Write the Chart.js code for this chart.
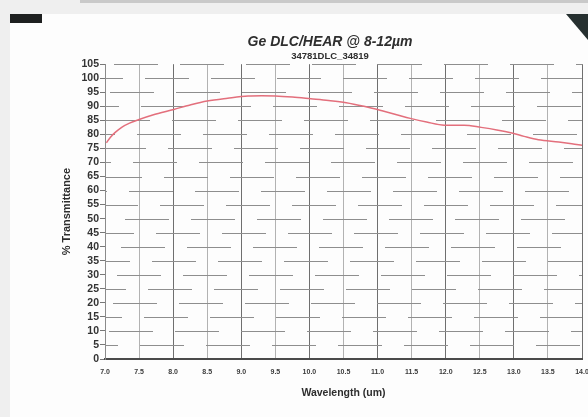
<!DOCTYPE html>
<html>
<head>
<meta charset="utf-8">
<script src="https://cdn.jsdelivr.net/npm/chart.js@4/dist/chart.umd.min.js"></script>
<style>
  html, body { margin: 0; padding: 0; background: #f2f2f2; }
  #wrap { position: relative; width: 588px; height: 417px; overflow: hidden; background: #efefef; }
  #topbar { position: absolute; left: 80px; top: 0; right: 0; height: 3px; background: #c9c9c9; }
  #page { position: absolute; left: 10px; top: 14px; right: 0; bottom: 0; background: #fdfdfd; }
  #blobL { position: absolute; left: 10px; top: 14px; width: 32px; height: 9px; background: #1e2020; }
  #blobR { position: absolute; left: 566px; top: 14px; width: 22px; height: 26px; background: #263030;
           clip-path: polygon(0 0, 100% 0, 100% 100%); }
  canvas { position: absolute; left: 0; top: 0; }
</style>
</head>
<body>
<div id="wrap">
  <div id="topbar"></div>
  <div id="page"></div>
  <div id="blobL"></div>
  <div id="blobR"></div>
  <canvas id="c" width="612" height="417"></canvas>
</div>
<script>
const titleText = "Ge DLC/HEAR @ 8-12\u00B5m";
const subtitleText = "34781DLC_34819";
const xAxisTitle = "Wavelength (um)";
const yAxisTitle = "% Transmittance";

const wavelength = [7.02, 7.08, 7.15, 7.25, 7.36, 7.5, 7.7, 8.01, 8.25, 8.5, 8.8, 9.1, 9.3, 9.5, 9.75, 10.02, 10.28, 10.54, 10.8, 11.08, 11.28, 11.48, 11.72, 11.98, 12.27, 12.52, 12.75, 12.97, 13.15, 13.36, 13.66, 13.85, 14.0];
const transmittance = [77.0, 79.0, 80.7, 82.6, 84.0, 85.3, 86.9, 88.9, 90.5, 91.9, 92.9, 93.7, 93.8, 93.7, 93.3, 92.7, 92.1, 91.3, 90.0, 88.3, 87.0, 85.7, 84.4, 83.3, 83.3, 82.5, 81.6, 80.5, 79.3, 78.1, 77.3, 76.7, 76.1];

const xMin = 7.0, xMax = 14.0, xStep = 0.5;
const yMin = 0, yMax = 105, yStep = 5;

const points = wavelength.map((w, i) => ({ x: w, y: transmittance[i] }));
const FONT = 'Liberation Sans, Arial, sans-serif';

const hGrid = {
  id: 'hGrid',
  beforeDatasetsDraw(chart) {
    const { ctx, chartArea: a, scales: { y } } = chart;
    ctx.save();
    ctx.strokeStyle = '#8e8e8e';
    ctx.lineWidth = 1;
    y.ticks.forEach((t, i) => {
      if (t.value === yMin) return;
      const py = Math.round(y.getPixelForValue(t.value)) + 0.5;
      ctx.setLineDash([44, 22]);
      ctx.lineDashOffset = (i * 31) % 66;
      ctx.beginPath();
      ctx.moveTo(a.left, py);
      ctx.lineTo(a.right, py);
      ctx.stroke();
    });
    ctx.restore();
  }
};

new Chart(document.getElementById('c'), {
  type: 'line',
  data: {
    datasets: [{
      data: points,
      borderColor: '#e36f7c',
      borderWidth: 1.5,
      pointRadius: 0,
      cubicInterpolationMode: 'monotone',
      fill: false
    }]
  },
  options: {
    responsive: false,
    animation: false,
    layout: { padding: { left: 50, right: 2, top: 30, bottom: 14 } },
    plugins: {
      legend: { display: false },
      tooltip: { enabled: false },
      title: {
        display: true, text: titleText, color: '#2e2e2e',
        font: { family: FONT, size: 14, weight: 'bold', style: 'italic' },
        padding: { top: 4, bottom: 0 }
      },
      subtitle: {
        display: true, text: subtitleText, color: '#2e2e2e',
        font: { family: FONT, size: 9.5, weight: 'bold' },
        padding: { top: 0, bottom: 2 }
      }
    },
    scales: {
      x: {
        type: 'linear', min: xMin, max: xMax,
        afterFit: (s) => { s.height = 44; },
        ticks: {
          stepSize: xStep, color: '#3a3a3a', padding: 9,
          maxRotation: 0, autoSkip: false,
          font: { family: FONT, size: 7, weight: 'bold' },
          callback: (v) => Number(v).toFixed(1)
        },
        grid: {
          color: (c) => (c.tick && Number.isInteger(c.tick.value)) ? '#6f6f6f' : '#b2b2b2',
          lineWidth: 1, drawTicks: false
        },
        border: { color: '#4a4a4a', width: 2 },
        title: {
          display: true, text: xAxisTitle, color: '#2e2e2e',
          font: { family: FONT, size: 10.5, weight: 'bold' },
          padding: { top: 8 }
        }
      },
      y: {
        min: yMin, max: yMax,
        afterFit: (s) => { s.width = 55; },
        ticks: {
          stepSize: yStep, color: '#333', padding: 1, autoSkip: false,
          font: { family: FONT, size: 10.5, weight: 'bold' }
        },
        grid: { drawOnChartArea: false, tickLength: 5, tickColor: '#777', lineWidth: 1 },
        border: { color: '#8a8a8a', width: 1 },
        title: {
          display: true, text: yAxisTitle, color: '#2e2e2e',
          font: { family: FONT, size: 11, weight: 'bold' },
          padding: { top: 10, bottom: 0 }
        }
      },
      yRight: {
        position: 'right', min: yMin, max: yMax,
        afterFit: (s) => { s.width = 28; },
        ticks: { display: false },
        grid: { display: false },
        border: { display: false }
      }
    }
  },
  plugins: [hGrid]
});
</script>
</body>
</html>
